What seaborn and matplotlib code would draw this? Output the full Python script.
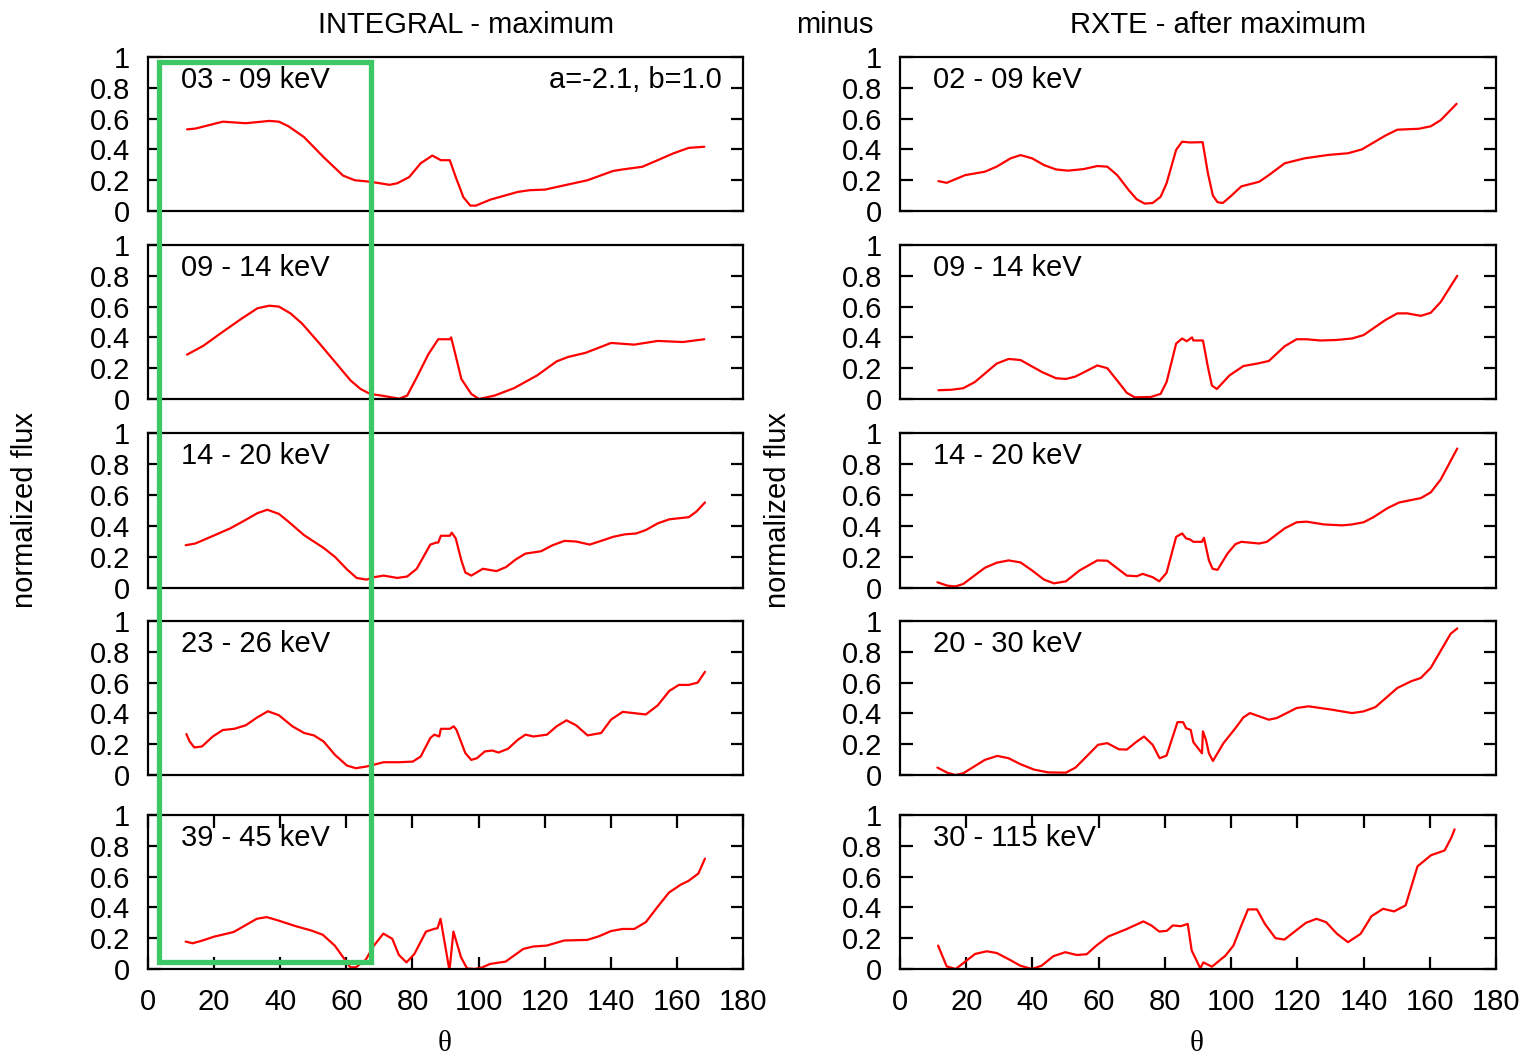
import numpy as np
import pandas as pd
import matplotlib
matplotlib.use("Agg")
import matplotlib.pyplot as plt
import seaborn as sns
from matplotlib.patches import Rectangle

# ---------------- data ----------------
int_labels = ["03 - 09 keV", "09 - 14 keV", "14 - 20 keV", "23 - 26 keV", "39 - 45 keV"]
rxte_labels = ["02 - 09 keV", "09 - 14 keV", "14 - 20 keV", "20 - 30 keV", "30 - 115 keV"]

int1_x = [11.8, 14.3, 22.6, 29.6, 36.7, 39.6, 42.5, 47.2, 53.1, 59.0, 62.5, 67.2, 73.1, 75.4, 79.0, 82.5, 86.0, 88.6, 91.3, 93.1, 95.4, 97.5, 99.2, 103.6, 111.9, 115.4, 120.1, 126.0, 133.0, 140.7, 143.6, 149.5, 154.2, 158.9, 163.6, 168.3]
int1_y = [0.53, 0.535, 0.58, 0.57, 0.585, 0.58, 0.55, 0.48, 0.35, 0.23, 0.20, 0.19, 0.17, 0.18, 0.22, 0.31, 0.36, 0.33, 0.33, 0.22, 0.09, 0.035, 0.035, 0.074, 0.124, 0.135, 0.139, 0.167, 0.20, 0.26, 0.27, 0.287, 0.33, 0.374, 0.41, 0.417]

int2_x = [11.8, 16.7, 22.6, 28.4, 33.1, 36.7, 39.6, 43.1, 46.6, 51.9, 56.6, 61.3, 64.3, 67.2, 70.7, 76.0, 78.4, 81.3, 84.8, 87.8, 91.3, 91.7, 93.1, 94.8, 97.8, 100.1, 104.8, 110.7, 117.7, 123.6, 127.1, 132.4, 140.1, 147.1, 154.2, 161.8, 168.3]
int2_y = [0.288, 0.345, 0.436, 0.523, 0.589, 0.606, 0.60, 0.556, 0.49, 0.36, 0.24, 0.12, 0.065, 0.033, 0.022, 0.002, 0.022, 0.14, 0.29, 0.388, 0.388, 0.40, 0.28, 0.13, 0.033, 0.0, 0.022, 0.07, 0.153, 0.244, 0.273, 0.30, 0.364, 0.353, 0.377, 0.37, 0.388]

int3_x = [11.4, 14.3, 19.0, 24.9, 29.6, 33.1, 36.1, 39.6, 42.5, 47.2, 53.1, 56.6, 60.2, 63.1, 66.1, 68.4, 71.3, 75.4, 78.4, 81.3, 85.4, 87.2, 87.8, 88.6, 91.3, 91.9, 93.1, 94.8, 96.0, 97.8, 101.3, 105.4, 108.3, 111.3, 114.2, 118.9, 122.4, 126.0, 129.5, 133.6, 136.5, 140.7, 144.2, 147.7, 150.6, 154.2, 157.7, 163.6, 165.9, 168.5]
int3_y = [0.276, 0.287, 0.33, 0.385, 0.44, 0.483, 0.505, 0.478, 0.428, 0.341, 0.259, 0.20, 0.12, 0.065, 0.054, 0.07, 0.08, 0.065, 0.074, 0.124, 0.28, 0.293, 0.293, 0.337, 0.337, 0.357, 0.32, 0.178, 0.10, 0.08, 0.124, 0.109, 0.135, 0.185, 0.222, 0.237, 0.276, 0.304, 0.30, 0.28, 0.30, 0.33, 0.346, 0.352, 0.374, 0.417, 0.443, 0.457, 0.493, 0.552]

int4_x = [11.6, 12.6, 14.0, 16.3, 19.6, 22.6, 26.1, 29.6, 33.1, 36.3, 39.6, 43.7, 47.2, 50.2, 53.1, 56.6, 60.2, 62.9, 66.1, 71.3, 76.0, 80.1, 82.5, 85.4, 86.6, 88.1, 88.6, 91.3, 92.5, 93.3, 96.0, 97.8, 99.5, 101.9, 104.2, 106.0, 108.9, 111.9, 114.2, 116.6, 120.7, 123.6, 126.6, 129.5, 133.0, 137.1, 140.1, 143.6, 150.6, 154.2, 157.7, 160.6, 163.6, 166.3, 168.5]
int4_y = [0.266, 0.218, 0.179, 0.185, 0.25, 0.292, 0.30, 0.323, 0.375, 0.414, 0.388, 0.316, 0.273, 0.257, 0.218, 0.13, 0.061, 0.044, 0.055, 0.083, 0.083, 0.087, 0.12, 0.24, 0.262, 0.25, 0.30, 0.30, 0.316, 0.294, 0.142, 0.098, 0.109, 0.153, 0.159, 0.146, 0.17, 0.229, 0.262, 0.25, 0.262, 0.316, 0.355, 0.323, 0.257, 0.273, 0.36, 0.41, 0.393, 0.452, 0.546, 0.585, 0.585, 0.60, 0.67]

int5_x = [11.4, 13.5, 16.5, 20.0, 25.9, 29.4, 32.9, 35.9, 39.4, 44.7, 49.4, 52.9, 56.5, 59.4, 61.2, 62.9, 65.9, 68.2, 71.2, 73.9, 75.9, 78.2, 80.6, 84.1, 86.5, 87.6, 88.5, 91.2, 92.4, 94.7, 96.5, 98.8, 101.2, 103.5, 108.2, 113.5, 116.5, 120.6, 125.9, 132.9, 136.5, 140.0, 143.5, 147.1, 150.6, 154.1, 157.6, 161.2, 163.5, 166.5, 168.5]
int5_y = [0.178, 0.167, 0.185, 0.21, 0.24, 0.283, 0.326, 0.337, 0.315, 0.278, 0.25, 0.222, 0.152, 0.065, 0.011, 0.011, 0.061, 0.148, 0.23, 0.196, 0.091, 0.043, 0.098, 0.243, 0.26, 0.265, 0.326, -0.01, 0.243, 0.076, 0.004, 0.0, 0.011, 0.033, 0.048, 0.13, 0.146, 0.152, 0.185, 0.189, 0.213, 0.246, 0.26, 0.26, 0.304, 0.402, 0.496, 0.548, 0.572, 0.62, 0.717]

rx1_x = [11.6, 14.1, 19.7, 25.6, 29.2, 33.4, 36.4, 39.9, 43.5, 47.1, 50.7, 55.4, 59.6, 62.6, 65.6, 69.1, 71.5, 73.9, 76.3, 78.7, 80.5, 83.4, 85.2, 87.6, 91.4, 93.0, 94.5, 95.9, 97.5, 100.1, 103.1, 108.5, 111.4, 116.2, 122.2, 129.3, 135.3, 139.5, 146.6, 150.2, 156.7, 160.3, 163.3, 168.1]
rx1_y = [0.194, 0.183, 0.233, 0.255, 0.288, 0.342, 0.363, 0.342, 0.298, 0.27, 0.262, 0.272, 0.292, 0.288, 0.233, 0.135, 0.076, 0.048, 0.052, 0.092, 0.179, 0.397, 0.45, 0.445, 0.447, 0.244, 0.10, 0.057, 0.052, 0.10, 0.16, 0.19, 0.233, 0.31, 0.342, 0.364, 0.375, 0.40, 0.49, 0.528, 0.534, 0.55, 0.59, 0.696]

rx2_x = [11.6, 15.5, 19.1, 22.6, 29.2, 32.8, 36.4, 42.9, 47.1, 50.1, 53.0, 56.6, 59.6, 62.6, 65.6, 68.5, 70.9, 75.7, 78.7, 80.5, 83.4, 85.2, 86.6, 88.2, 88.6, 91.5, 93.0, 94.2, 95.7, 99.5, 103.7, 107.9, 111.4, 116.2, 119.8, 122.8, 126.9, 131.7, 136.5, 140.0, 146.6, 150.2, 153.2, 157.3, 160.3, 163.3, 168.3]
rx2_y = [0.057, 0.06, 0.07, 0.11, 0.23, 0.26, 0.253, 0.175, 0.135, 0.13, 0.146, 0.185, 0.218, 0.20, 0.12, 0.04, 0.011, 0.013, 0.033, 0.11, 0.36, 0.393, 0.375, 0.40, 0.38, 0.38, 0.207, 0.087, 0.065, 0.153, 0.214, 0.23, 0.247, 0.343, 0.388, 0.388, 0.38, 0.383, 0.393, 0.415, 0.513, 0.556, 0.556, 0.54, 0.56, 0.63, 0.80]

rx3_x = [11.3, 14.3, 16.7, 19.1, 25.6, 29.2, 32.8, 36.4, 39.9, 43.5, 46.5, 50.1, 54.2, 59.6, 62.6, 68.5, 71.5, 73.3, 76.3, 78.3, 80.5, 83.4, 85.2, 86.4, 87.6, 88.6, 91.2, 91.8, 93.3, 94.4, 95.9, 98.9, 101.3, 103.1, 108.5, 110.8, 116.2, 119.8, 122.8, 128.1, 133.5, 136.5, 140.0, 143.0, 147.2, 150.8, 153.8, 157.3, 160.3, 163.3, 168.3]
rx3_y = [0.037, 0.015, 0.01, 0.026, 0.13, 0.163, 0.178, 0.165, 0.113, 0.054, 0.03, 0.043, 0.113, 0.178, 0.176, 0.08, 0.076, 0.091, 0.07, 0.043, 0.098, 0.33, 0.352, 0.32, 0.313, 0.298, 0.298, 0.324, 0.178, 0.124, 0.117, 0.222, 0.283, 0.298, 0.287, 0.298, 0.385, 0.424, 0.428, 0.41, 0.404, 0.41, 0.424, 0.457, 0.515, 0.552, 0.565, 0.58, 0.617, 0.70, 0.90]

rx4_x = [11.3, 14.3, 16.7, 19.1, 25.6, 29.4, 32.8, 36.4, 40.5, 44.7, 50.1, 53.0, 56.6, 59.8, 62.6, 66.1, 68.5, 71.5, 73.7, 76.3, 78.4, 80.5, 83.8, 85.5, 86.4, 87.8, 88.6, 91.2, 91.5, 92.4, 93.3, 94.5, 97.7, 101.3, 103.7, 105.7, 111.4, 113.8, 119.8, 123.4, 130.5, 136.5, 140.0, 143.6, 150.2, 154.4, 157.3, 160.3, 166.3, 168.3]
rx4_y = [0.048, 0.015, 0.0, 0.011, 0.098, 0.124, 0.109, 0.07, 0.035, 0.017, 0.015, 0.048, 0.126, 0.196, 0.207, 0.167, 0.165, 0.217, 0.25, 0.196, 0.109, 0.126, 0.343, 0.343, 0.304, 0.293, 0.213, 0.141, 0.283, 0.228, 0.141, 0.091, 0.207, 0.304, 0.374, 0.402, 0.359, 0.37, 0.435, 0.446, 0.424, 0.402, 0.413, 0.441, 0.565, 0.609, 0.63, 0.696, 0.917, 0.952]

rx5_x = [11.5, 14.1, 16.8, 19.7, 22.7, 26.2, 29.2, 32.7, 36.3, 39.8, 42.8, 46.3, 49.9, 53.4, 56.4, 59.3, 62.9, 68.2, 73.5, 75.9, 78.3, 80.6, 82.4, 84.8, 86.9, 88.1, 90.7, 91.6, 94.2, 98.3, 100.7, 103.1, 105.1, 107.8, 110.2, 113.4, 116.1, 119.6, 122.6, 125.8, 128.7, 132.0, 135.3, 139.1, 142.4, 145.9, 149.2, 152.7, 156.3, 160.4, 164.5, 166.5, 167.5]
rx5_y = [0.152, 0.017, 0.0, 0.048, 0.098, 0.115, 0.104, 0.065, 0.022, 0.0, 0.022, 0.083, 0.109, 0.091, 0.096, 0.152, 0.211, 0.257, 0.309, 0.283, 0.243, 0.248, 0.283, 0.278, 0.293, 0.12, 0.004, 0.043, 0.015, 0.087, 0.152, 0.283, 0.387, 0.387, 0.293, 0.20, 0.191, 0.25, 0.30, 0.326, 0.304, 0.228, 0.174, 0.228, 0.343, 0.391, 0.374, 0.413, 0.667, 0.739, 0.77, 0.853, 0.907]

int_series = [(int1_x, int1_y), (int2_x, int2_y), (int3_x, int3_y), (int4_x, int4_y), (int5_x, int5_y)]
rxte_series = [(rx1_x, rx1_y), (rx2_x, rx2_y), (rx3_x, rx3_y), (rx4_x, rx4_y), (rx5_x, rx5_y)]

x_ticks = [0, 20, 40, 60, 80, 100, 120, 140, 160, 180]
y_ticks = [0, 0.2, 0.4, 0.6, 0.8, 1]
y_ticklabels = ["0", "0.2", "0.4", "0.6", "0.8", "1"]

# ---------------- style ----------------
sns.set_style("white")
plt.rcParams["font.family"] = ["Liberation Sans", "DejaVu Sans"]
plt.rcParams["axes.linewidth"] = 1.6
for k in ["text.color", "axes.labelcolor", "xtick.color", "ytick.color", "axes.edgecolor"]:
    plt.rcParams[k] = "black"

W, H = 1526, 1057
fig = plt.figure(figsize=(W / 100, H / 100), dpi=100)

col_left_px = [148, 900]
col_w_px = [595, 596]
rows_px = [(57, 211), (245, 399), (433, 588), (621, 775), (815, 969)]

FS = 21
red = "#ff0000"
serif = ["Liberation Serif", "DejaVu Serif"]

for c, (series, labels) in enumerate([(int_series, int_labels), (rxte_series, rxte_labels)]):
    for r, ((xs, ys), lab) in enumerate(zip(series, labels)):
        top, bot = rows_px[r]
        ax = fig.add_axes([col_left_px[c] / W, 1 - bot / H, col_w_px[c] / W, (bot - top) / H])
        df = pd.DataFrame({"theta": xs, "flux": ys})
        sns.lineplot(data=df, x="theta", y="flux", ax=ax, color=red, lw=1.6, sort=False)
        ax.set_xlim(0, 180)
        ax.set_ylim(0, 1)
        ax.set_yticks(y_ticks)
        ax.set_yticklabels(y_ticklabels, fontsize=FS)
        ax.tick_params(axis="y", direction="in", left=True, right=True, length=9, width=1.6, pad=13)
        ax.set_xticks(x_ticks)
        if r == 4:
            ax.tick_params(axis="x", direction="in", bottom=True, top=True, length=9, width=1.6, pad=14, labelsize=FS)
        else:
            ax.tick_params(axis="x", bottom=False, top=False, labelbottom=False)
        ax.set_xlabel("")
        ax.set_ylabel("")
        for s in ax.spines.values():
            s.set_visible(True)
            s.set_color("black")
            s.set_linewidth(1.6)
        ax.text(0.055, 0.85, lab, transform=ax.transAxes, fontsize=FS, va="center", ha="left")
        if c == 0 and r == 0:
            ax.text(0.965, 0.85, "a=-2.1, b=1.0", transform=ax.transAxes, fontsize=FS, va="center", ha="right")

# axis labels
fig.text(25 / W, 1 - 510 / H, "normalized flux", fontsize=FS, rotation=90, ha="center", va="center")
fig.text(778 / W, 1 - 510 / H, "normalized flux", fontsize=FS, rotation=90, ha="center", va="center")
fig.text(445 / W, 1 - 1044 / H, "θ", fontsize=21, family=serif, ha="center", va="center")
fig.text(1197 / W, 1 - 1044 / H, "θ", fontsize=21, family=serif, ha="center", va="center")

fig.text(466 / W, 1 - 25 / H, "INTEGRAL - maximum", fontsize=FS, ha="center", va="center")
fig.text(835 / W, 1 - 25 / H, "minus", fontsize=FS, ha="center", va="center")
fig.text(1218 / W, 1 - 25 / H, "RXTE - after maximum", fontsize=FS, ha="center", va="center")

# green highlight box over the left column (0-65 deg region)
box_l, box_r, box_t, box_b = 159, 371, 62, 962
fig.add_artist(Rectangle((box_l / W, 1 - box_b / H), (box_r - box_l) / W, (box_b - box_t) / H,
                         transform=fig.transFigure, fill=False, edgecolor="#3cc864", lw=3.8, zorder=10))

fig.savefig("out.png", dpi=100)
